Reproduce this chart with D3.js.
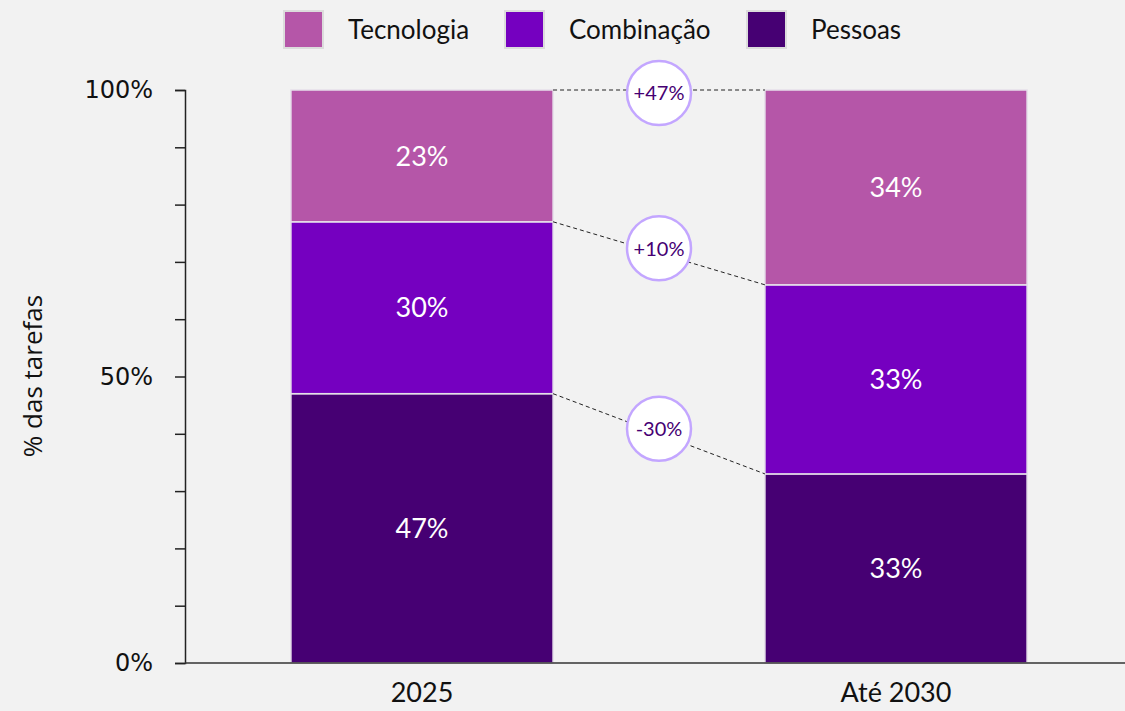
<!DOCTYPE html>
<html>
<head>
<meta charset="utf-8">
<script src="https://cdn.jsdelivr.net/npm/d3@7"></script>
<style>
  html, body { margin: 0; padding: 0; background: #f2f2f2; }
  svg { display: block; font-family: Lato, "Open Sans", sans-serif; }
</style>
</head>
<body>
<div id="chart"></div>
<script>
const years = ["2025", "Até 2030"];
const series = ["Pessoas", "Combinação", "Tecnologia"];
const pessoas = [47, 33];
const combinacao = [30, 33];
const tecnologia = [23, 34];
const changes = ["-30%", "+10%", "+47%"];
const yTicks = [0, 10, 20, 30, 40, 50, 60, 70, 80, 90, 100];
const legendOrder = ["Tecnologia", "Combinação", "Pessoas"];

const COLORS = {
  "Tecnologia": "#b556a8",
  "Combinação": "#7500c0",
  "Pessoas": "#460073"
};

const width = 1125;
const height = 711;

const svg = d3.select("#chart")
  .append("svg")
  .attr("width", width)
  .attr("height", height);

svg.append("rect")
  .attr("width", width)
  .attr("height", height)
  .attr("fill", "#f2f2f2");

const x = d3.scaleBand()
  .domain(years)
  .range([185, 1133])
  .paddingInner(0.447)
  .paddingOuter(0.2235);

const y = d3.scaleLinear().domain([0, 100]).range([663, 90]);

// build rows for stacking
const rows = years.map(function (yr, i) {
  return {
    year: yr,
    "Pessoas": pessoas[i],
    "Combinação": combinacao[i],
    "Tecnologia": tecnologia[i]
  };
});

const stacked = d3.stack().keys(series)(rows);

const layers = svg.append("g")
  .selectAll("g")
  .data(stacked)
  .enter()
  .append("g")
  .attr("fill", function (d) { return COLORS[d.key]; });

layers.selectAll("rect")
  .data(function (d) { return d; })
  .enter()
  .append("rect")
  .attr("x", function (d) { return x(d.data.year); })
  .attr("y", function (d) { return y(d[1]); })
  .attr("width", x.bandwidth())
  .attr("height", function (d) { return y(d[0]) - y(d[1]); })
  .attr("stroke", "#e6e0ea")
  .attr("stroke-width", 1.5);

layers.selectAll("text")
  .data(function (d) { return d; })
  .enter()
  .append("text")
  .attr("x", function (d) { return x(d.data.year) + x.bandwidth() / 2; })
  .attr("y", function (d) { return (y(d[0]) + y(d[1])) / 2; })
  .attr("dy", "0.36em")
  .attr("text-anchor", "middle")
  .attr("fill", "#fff")
  .attr("font-size", "27px")
  .text(function (d) { return (d[1] - d[0]) + "%"; });

// connectors between bars
const connectors = svg.append("g");
stacked.forEach(function (layer, i) {
  const x1 = x(years[0]) + x.bandwidth();
  const x2 = x(years[1]);
  const y1 = y(layer[0][1]);
  const y2 = y(layer[1][1]);
  connectors.append("line")
    .attr("x1", x1).attr("y1", y1)
    .attr("x2", x2).attr("y2", y2)
    .attr("stroke", "#222")
    .attr("stroke-width", 1)
    .attr("stroke-dasharray", "4,3");

  const cx = (x1 + x2) / 2;
  const cy = (y1 + y2) / 2 - (i === 2 ? -3 : 5);
  connectors.append("circle")
    .attr("cx", cx).attr("cy", cy).attr("r", 32)
    .attr("fill", "#fff")
    .attr("stroke", "#c3a6ff")
    .attr("stroke-width", 2.5);
  connectors.append("text")
    .attr("x", cx).attr("y", cy)
    .attr("dy", "0.36em")
    .attr("text-anchor", "middle")
    .attr("fill", "#460073")
    .attr("font-size", "20px")
    .text(changes[i]);
});

// y axis
const yAxis = svg.append("g")
  .attr("transform", "translate(185,0)")
  .call(d3.axisLeft(y)
    .tickValues(yTicks)
    .tickSize(10)
    .tickPadding(22)
    .tickFormat(function (d) { return d % 50 === 0 ? d + "%" : ""; }));

yAxis.select(".domain").attr("stroke", "#222").attr("stroke-width", 1.5);
yAxis.selectAll(".tick line").attr("stroke", "#222").attr("stroke-width", 1.5);
yAxis.selectAll(".tick text")
  .attr("fill", "#111")
  .attr("font-size", "24px")
  .attr("font-family", "'DejaVu Sans', sans-serif");

// x axis baseline
svg.append("line")
  .attr("x1", 185).attr("x2", width)
  .attr("y1", y(0)).attr("y2", y(0))
  .attr("stroke", "#333")
  .attr("stroke-width", 1.5);

svg.append("g")
  .selectAll("text")
  .data(years)
  .enter()
  .append("text")
  .attr("x", function (d) { return x(d) + x.bandwidth() / 2; })
  .attr("y", 702)
  .attr("text-anchor", "middle")
  .attr("fill", "#111")
  .attr("font-size", "27px")
  .text(function (d) { return d; });

svg.append("text")
  .attr("transform", "translate(42,376) rotate(-90)")
  .attr("text-anchor", "middle")
  .attr("fill", "#111")
  .attr("font-size", "26px")
  .attr("font-family", "'Open Sans', sans-serif")
  .text("% das tarefas");

// legend
const legendX = [284, 505, 747];
const legend = svg.append("g")
  .selectAll("g")
  .data(legendOrder)
  .enter()
  .append("g")
  .attr("transform", function (d, i) { return "translate(" + legendX[i] + ",11)"; });

legend.append("rect")
  .attr("width", 39)
  .attr("height", 37)
  .attr("fill", function (d) { return COLORS[d]; })
  .attr("stroke", "#dcdcdc")
  .attr("stroke-width", 2);

legend.append("text")
  .attr("x", 64)
  .attr("y", 19)
  .attr("dy", "0.36em")
  .attr("fill", "#111")
  .attr("font-size", "26px")
  .text(function (d) { return d; });
</script>
</body>
</html>
